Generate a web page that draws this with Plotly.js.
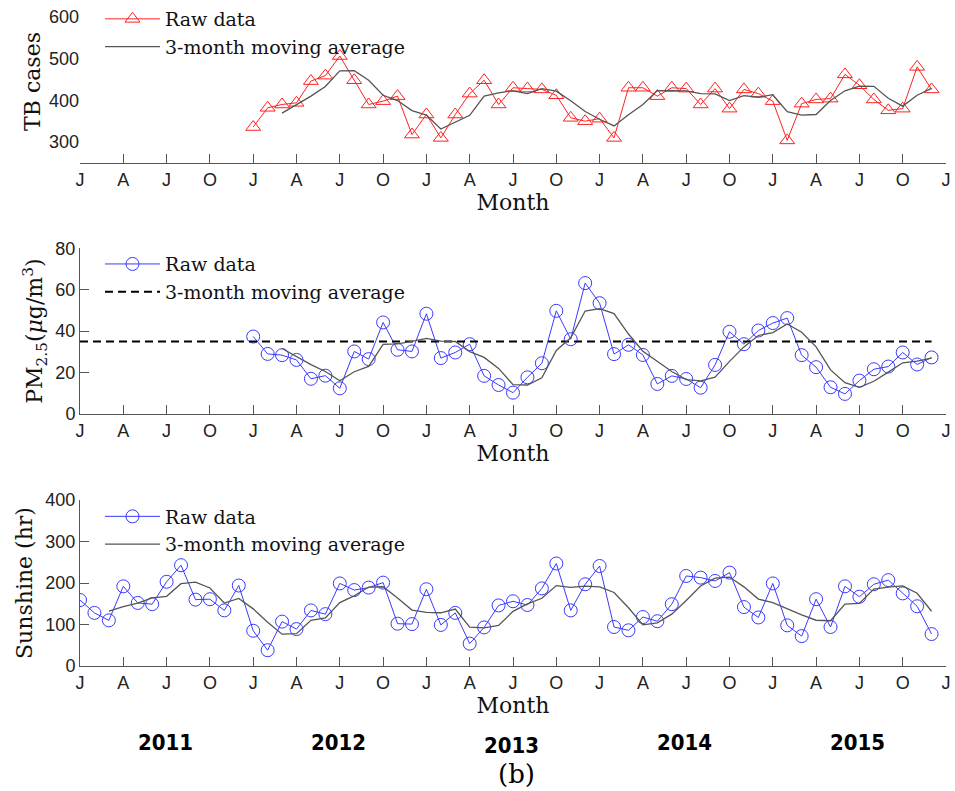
<!DOCTYPE html>
<html><head><meta charset="utf-8">
<script src="https://cdn.plot.ly/plotly-3.0.1.min.js"></script>
<style>html,body{margin:0;padding:0;background:#fff}#chart{width:955px;height:791px}</style>
</head><body><div id="chart"></div>
<script>
// Quarter tick labels, Jan 2011 .. Jan 2016 (month index 0..60, every 3 months)
const tickLabels = ['J','A','J','O','J','A','J','O','J','A','J','O','J','A','J','O','J','A','J','O','J'];
const years = ['2011','2012','2013','2014','2015'];

// TB cases, Jan 2012 (month 12) .. Dec 2015 (month 59)
const tbStart = 12;
const tbRaw = [336,382,390,394,446,459,506,448,390,398,410,318,
               366,310,366,416,448,390,430,428,426,412,358,350,
               356,310,430,430,410,430,428,390,428,380,426,416,
               398,304,392,402,404,462,436,402,376,380,480,426];
// 3-month moving average, Mar 2012 (month 14) .. Dec 2015
const tbMAStart = 14;
const tbMA = [369.3,388.7,410,433,470.3,471,448,412,399.3,375.3,
              364.7,331.3,347.3,364,410,418,422.7,416,428,422,
              398.7,373.3,354.7,338.7,365.3,390,423.3,423.3,422.7,416,
              415.3,399.3,411.3,407.3,413.3,372.7,364.7,366,399.3,422.7,
              434,433.3,404.7,386,412,428.7];

// PM2.5, Jan 2012 .. Dec 2015
const pmStart = 12;
const pmRaw = [37.4,29,28.4,26.1,17,18.5,12.4,30.2,26.5,44.2,31,30.2,
               48.4,27,29.7,33.7,18.4,14,10.3,17.7,24.5,49.8,36.1,63.2,
               53.5,28.9,33.4,28.5,14.5,18.4,16.9,12.7,23.7,39.7,33.7,40.3,
               43.9,46.3,28.4,22.6,12.9,9.7,16.1,21.6,22.9,29.7,23.9,27.3];
const pmMAStart = 14;
const pmMA = [31.6,27.8,23.8,20.5,16.0,20.4,23.0,33.6,33.9,35.1,
              36.5,35.2,35.0,30.1,27.3,22.0,14.2,14.0,17.5,30.7,
              36.8,49.7,50.9,48.5,38.6,30.3,25.5,20.5,16.6,16.0,
              17.8,25.4,32.4,37.9,39.3,43.5,39.5,32.4,21.3,15.1,
              12.9,15.8,20.2,24.7,25.5,27.0];
const pmLimit = 35;
const pmLimitSpan = [0, 59];

// Sunshine hours, Jan 2011 (month 0) .. Dec 2015
const sunStart = 0;
const sunRaw = [159,128,110,192,152,149,203,243,160,161,134,194,
                85,38,107,89,134,125,199,183,189,201,102,101,
                185,99,128,54,93,146,156,147,187,247,134,197,
                241,94,86,118,108,149,217,213,205,225,142,117,
                199,98,72,161,94,192,167,197,207,175,144,77];
const sunMAStart = 2;
const sunMA = [132.3,143.3,151.3,164.3,168,198.3,202,188,151.7,163,
               137.7,105.7,76.7,78,110,116,152.7,169,190.3,191,
               164,134.7,129.3,128.3,137.3,93.7,91.7,97.7,131.7,149.7,
               163.3,193.7,189.3,192.7,190.7,177.3,140.3,99.3,104,125,
               158,193,211.7,214.3,190.7,161.3,152.7,138,123,110.3,
               109,149,151,185.3,190.3,193,175.3,132];

const idx = (start, arr) => arr.map((_, i) => start + i);

const SERIF = 'DejaVu Serif, serif';
const SANS = 'Liberation Sans, Arial, sans-serif';
const RED = '#ff2020', BLUE = '#3a3aff', GRAY = '#555555', AX = '#555555';

const traces = [
  {x: idx(tbStart, tbRaw), y: tbRaw, xaxis:'x', yaxis:'y', name:'Raw data', legend:'legend',
   mode:'lines+markers', line:{color:RED, width:1},
   marker:{symbol:'triangle-up-open', size:13, color:RED, line:{width:1}}},
  {x: idx(tbMAStart, tbMA), y: tbMA, xaxis:'x', yaxis:'y', name:'3-month moving average', legend:'legend',
   mode:'lines', line:{color:GRAY, width:1.3}},

  {x: idx(pmStart, pmRaw), y: pmRaw, xaxis:'x2', yaxis:'y2', name:'Raw data', legend:'legend2',
   mode:'lines+markers', line:{color:BLUE, width:1},
   marker:{symbol:'circle-open', size:13, color:BLUE, line:{width:1}}},
  {x: pmLimitSpan, y: pmLimitSpan.map(() => pmLimit), xaxis:'x2', yaxis:'y2', name:'3-month moving average', legend:'legend2',
   mode:'lines', line:{color:'#000', width:2, dash:'8px,5px'}},
  {x: idx(pmMAStart, pmMA), y: pmMA, xaxis:'x2', yaxis:'y2', showlegend:false,
   mode:'lines', line:{color:GRAY, width:1.3}},

  {x: idx(sunStart, sunRaw), y: sunRaw, xaxis:'x3', yaxis:'y3', name:'Raw data', legend:'legend3',
   mode:'lines+markers', line:{color:BLUE, width:1},
   marker:{symbol:'circle-open', size:13, color:BLUE, line:{width:1}}},
  {x: idx(sunMAStart, sunMA), y: sunMA, xaxis:'x3', yaxis:'y3', name:'3-month moving average', legend:'legend3',
   mode:'lines', line:{color:GRAY, width:1.3}}
];

const tickvals = tickLabels.map((_, i) => i * 3);
function xAxis(anchor) {
  return {anchor, domain:[0,1], range:[0,60], tickvals, ticktext: tickLabels,
    ticks:'inside', ticklen:9, tickcolor:AX, showline:true, linecolor:AX, linewidth:1,
    showgrid:false, zeroline:false, tickfont:{family:SANS, size:18, color:'#222'},
    title:{text:'Month', font:{family:SERIF, size:22, color:'#111'}, standoff:4}};
}
function yAxis(anchor, domain, range, dtick, title, showAxis, standoff) {
  return {anchor, domain, range, dtick, tick0:0, showline:showAxis, linecolor:AX, linewidth:1,
    ticks: showAxis ? 'inside' : '', ticklen:9, tickcolor:AX,
    showgrid:false, zeroline:false, tickfont:{family:SANS, size:18, color:'#222'},
    title:{text:title, font:{family:SERIF, size:22, color:'#111'}, standoff}};
}
function legendAt(y) {
  return {x:0.0231, y, xanchor:'left', yanchor:'top', bgcolor:'rgba(0,0,0,0)', borderwidth:0,
    font:{family:SERIF, size:19, color:'#111'}, itemwidth:55, tracegroupgap:0};
}

const yearY = [-0.1156, -0.1156, -0.119, -0.1156, -0.1156];
const annotations = years.map((yr, i) => ({
  text: yr, xref:'x3', yref:'paper', x: 12 * i + 5.9, y: yearY[i], showarrow:false,
  xanchor:'center', yanchor:'middle',
  font:{family:'DejaVu Sans Condensed, Liberation Sans Narrow, Arial Narrow, sans-serif', size:22, color:'#000', weight:'bold'}
}));
annotations.push({text:'(b)', xref:'paper', yref:'paper', x:0.5046, y:-0.1622, showarrow:false,
  xanchor:'center', yanchor:'middle', font:{family:SERIF, size:26, color:'#000'}});

const layout = {
  width:955, height:791, margin:{l:80, r:9, t:0, b:125},
  paper_bgcolor:'#fff', plot_bgcolor:'#fff',
  xaxis: xAxis('y'), xaxis2: xAxis('y2'), xaxis3: xAxis('y3'),
  yaxis: yAxis('x', [0.7553,1], [250,640], 100, 'TB cases', false, 2),
  yaxis2: yAxis('x2', [0.3784,0.6272], [0,80], 20, 'PM<sub>2.5</sub>(<i>μ</i>g/m<sup>3</sup>)', true, 6),
  yaxis3: yAxis('x3', [0,0.2492], [0,400], 100, 'Sunshine (hr)', true, 6),
  legend: legendAt(1.0), legend2: legendAt(0.632), legend3: legendAt(0.253),
  annotations, showlegend:true
};

Plotly.newPlot('chart', traces, layout, {displayModeBar:false, staticPlot:true});
</script></body></html>
